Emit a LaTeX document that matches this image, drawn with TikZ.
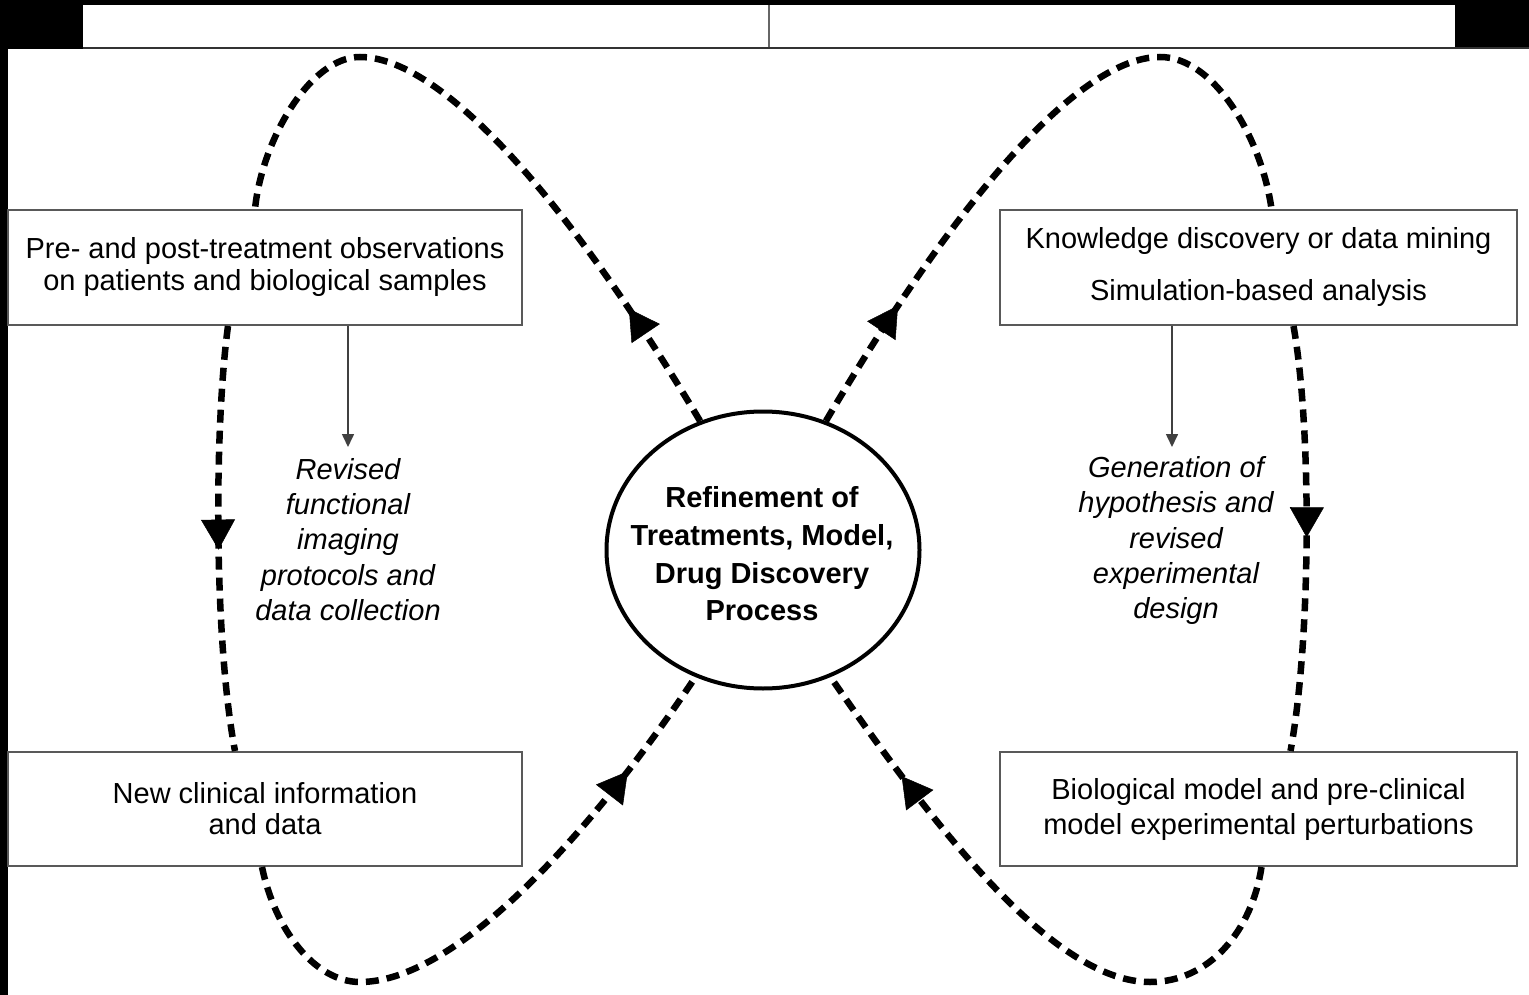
\documentclass[tikz,border=0pt]{standalone}
\usepackage{fontspec}
\setmainfont{Liberation Sans}
\usetikzlibrary{arrows.meta,decorations.markings,shapes.geometric}
\colorlet{framegray}{black!65}
\begin{document}
\begin{tikzpicture}[x=1pt,y=-1pt,
  stagebox/.style={draw=framegray, line width=2pt, minimum height=115pt,
    inner sep=0pt, align=center, fill=white},
  boxfont/.style={font=\fontsize{29}{#1}\selectfont},
  note/.style={align=center, font=\itshape\fontsize{29}{35.25}\selectfont},
  cyclepath/.style={line width=6.5pt, dash pattern=on 13pt off 8pt},
  midarrow/.style={postaction={decorate, solid, decoration={markings,
    mark=at position #1 with {\arrow{Triangle[width=34pt,length=30pt,line width=0.5pt]}}}}},
  thinarrow/.style={draw=black!75, line width=1.6pt,
    -{Triangle[width=12pt,length=13pt]}}
]
% page frame and empty header strip
\useasboundingbox (0,0) rectangle (1529,995);
\fill[black] (0,0) rectangle (1529,995);
\fill[white] (83,5) rectangle (1455,47);
\fill[white] (8,49) rectangle (1529,995);
\draw[black!80, line width=1.5pt] (83,48) -- (1529,48);
\draw[black!60, line width=2.5pt] (769,5) -- (769,47);

% central process
\node[ellipse, draw, line width=4pt, minimum width=313pt, minimum height=277pt,
  inner sep=0pt] (ref) at (763,550) {};
\node[align=center, font=\bfseries\fontsize{29}{37.7}\selectfont] (reftxt) at (762,554)
  {Refinement of\\Treatments, Model,\\Drug Discovery\\Process};

% stage boxes
\node[stagebox, minimum width=514pt, boxfont=32] (pre) at (265,267.5)
  {\raisebox{-3pt}{\parbox{500pt}{\centering Pre- and post-treatment observations\\on patients and biological samples}}};
\node[stagebox, minimum width=514pt, minimum height=114pt, boxfont=31] (clin) at (265,809)
  {\raisebox{-2pt}{\parbox{500pt}{\centering New clinical information\\and data}}};
\node[stagebox, minimum width=517pt, boxfont=52] (know) at (1258.5,267.5)
  {\raisebox{-3pt}{\parbox{500pt}{\centering Knowledge discovery or data mining\\Simulation-based analysis}}};
\node[stagebox, minimum width=517pt, minimum height=114pt, boxfont=35] (bio) at (1258.5,809)
  {\raisebox{-2pt}{\parbox{500pt}{\centering Biological model and pre-clinical\\model experimental perturbations}}};

% italic notes with their feed arrows
\node[note] (revnote) at (348,539.5)
  {Revised\\functional\\imaging\\protocols and\\data collection};
\node[note] (gennote) at (1176,540.5)
  {Generation of\\hypothesis and\\revised\\experimental\\design};
\coordinate (revtip) at (348,447);
\coordinate (gentip) at (1172,447);
\draw[thinarrow] (pre.south -| revtip) -- (revtip);
\draw[thinarrow] (know.south -| gentip) -- (gentip);

% left cycle
\draw[cyclepath, midarrow=133pt] (ref.116)
  .. controls (565,195) and (440,57) .. (360,57)
  .. controls (310,57) and (262,140) .. ([xshift=-10pt]pre.north);
\draw[cyclepath, midarrow=224pt] ([xshift=-37pt]pre.south)
  .. controls (214,430) and (214,640) .. ([xshift=-30pt]clin.north);
\draw[cyclepath, midarrow=-116pt] ([xshift=-3pt]clin.south)
  .. controls (275,930) and (315,982) .. (360,982)
  .. controls (450,982) and (579,851) .. (ref.242);

% right cycle
\draw[cyclepath, midarrow=136pt] (ref.64)
  .. controls (958,197) and (1080,57) .. (1160,57)
  .. controls (1215,57) and (1262,140) .. ([xshift=13pt]know.north);
\draw[cyclepath, midarrow=212pt] ([xshift=35pt]know.south)
  .. controls (1312,430) and (1311,640) .. ([xshift=32pt]bio.north);
\draw[cyclepath, midarrow=-122pt] ([xshift=3pt]bio.south)
  .. controls (1252,930) and (1210,982) .. (1150,982)
  .. controls (1060,982) and (949,849) .. (ref.298);
\end{tikzpicture}
\end{document}
